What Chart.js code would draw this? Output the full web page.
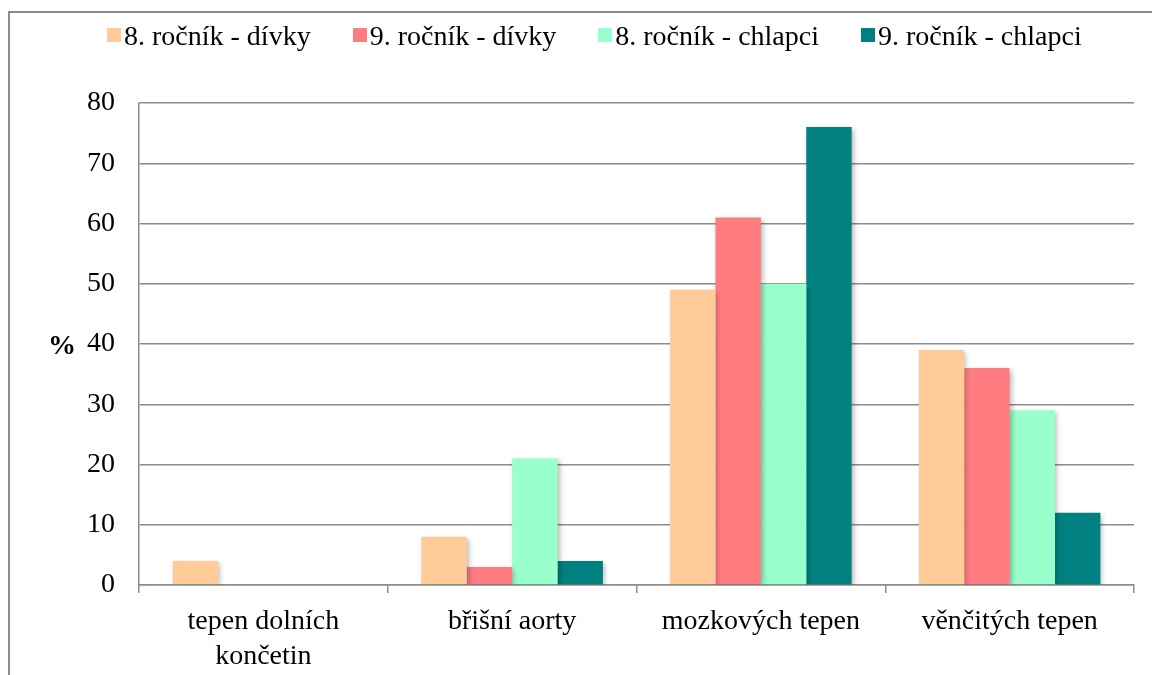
<!DOCTYPE html>
<html lang="cs">
<head>
<meta charset="utf-8">
<script src="https://cdn.jsdelivr.net/npm/chart.js@4"></script>
<style>
  html, body { margin: 0; padding: 0; background: #fff; overflow: hidden; }
  #wrap { position: relative; width: 1152px; height: 675px; }
  #frame { position: absolute; left: 8px; top: 11px; width: 1200px; height: 700px; border: 2px solid #8c8c8c; box-sizing: border-box; }
  #myChart { position: absolute; left: 0; top: 0; }
  #legend { position: absolute; left: 107px; top: 20px; display: flex; align-items: center; font-family: "Liberation Serif", "Times New Roman", serif; font-size: 28px; color: #000; }
  #legend .item { display: flex; align-items: center; margin-right: 42px; white-space: nowrap; }
  #legend .box { width: 14px; height: 14px; margin-right: 3px; margin-top: -2px; }
</style>
</head>
<body>
<div id="wrap">
  <div id="frame"></div>
  <canvas id="myChart" width="1152" height="675"></canvas>
  <div id="legend"></div>
</div>
<script>
const categories = [["tepen dolních", "končetin"], "břišní aorty", "mozkových tepen", "věnčitých tepen"];
const seriesNames = ["8. ročník - dívky", "9. ročník - dívky", "8. ročník - chlapci", "9. ročník - chlapci"];
const seriesColors = ["#ffcc99", "#ff7c80", "#99ffcc", "#008080"];

const divky8 = [4, 8, 49, 39];
const divky9 = [0, 3, 61, 36];
const chlapci8 = [0, 21, 50, 29];
const chlapci9 = [0, 4, 76, 12];

const yTicks = [0, 10, 20, 30, 40, 50, 60, 70, 80];

const serif = "'Liberation Serif', 'Times New Roman', serif";
const gridColor = "#8c8c8c";

const ctx = document.getElementById("myChart");

// soft drop shadow under the bars
const barShadow = {
  id: "barShadow",
  beforeDatasetsDraw(chart) {
    const c = chart.ctx;
    c.save();
    c.shadowColor = "rgba(0,0,0,0.28)";
    c.shadowBlur = 5;
    c.shadowOffsetX = 2;
    c.shadowOffsetY = 2;
  },
  afterDatasetsDraw(chart) {
    chart.ctx.restore();
  }
};

// upright "%" beside the value axis
const percentLabel = {
  id: "percentLabel",
  afterDraw(chart) {
    const { left, top, bottom } = chart.chartArea;
    const c = chart.ctx;
    c.save();
    c.font = "bold 28px " + serif;
    c.fillStyle = "#000";
    c.textAlign = "center";
    c.textBaseline = "middle";
    c.fillText("%", left - 77, (top + bottom) / 2 + 3);
    c.restore();
  }
};

const seriesData = [divky8, divky9, chlapci8, chlapci9];

const myChart = new Chart(ctx, {
  type: "bar",
  data: {
    labels: categories,
    datasets: seriesNames.map((name, i) => ({
      label: name,
      data: seriesData[i],
      backgroundColor: seriesColors[i],
      borderWidth: 0,
      categoryPercentage: 0.73,
      barPercentage: 1.0,
    })),
  },
  options: {
    responsive: false,
    animation: false,
    layout: {
      padding: { top: 103, right: 18, bottom: 0, left: 0 },
    },
    plugins: {
      legend: { display: false },
      tooltip: { enabled: false },
    },
    scales: {
      x: {
        grid: {
          offset: true,
          drawOnChartArea: false,
          tickLength: 8,
          color: gridColor,
          lineWidth: 1.5,
        },
        border: { color: gridColor, width: 1.5 },
        ticks: {
          font: { family: serif, size: 28, lineHeight: 1.22 },
          color: "#000",
          padding: 12,
          maxRotation: 0,
        },
        afterFit: (scale) => { scale.height = 90; },
      },
      y: {
        min: 0,
        max: 80,
        afterBuildTicks: (scale) => { scale.ticks = yTicks.map((v) => ({ value: v })); },
        grid: {
          color: gridColor,
          lineWidth: 1.5,
          drawTicks: false,
        },
        border: { color: gridColor, width: 1.5 },
        ticks: {
          font: { family: serif, size: 28 },
          color: "#000",
          padding: 24,
        },
        afterFit: (scale) => { scale.width = 139; },
      },
    },
  },
  plugins: [barShadow, percentLabel],
});

// legend row
const legendEl = document.getElementById("legend");
seriesNames.forEach((name, i) => {
  const item = document.createElement("div");
  item.className = "item";
  const box = document.createElement("span");
  box.className = "box";
  box.style.background = seriesColors[i];
  const text = document.createElement("span");
  text.textContent = name;
  item.appendChild(box);
  item.appendChild(text);
  legendEl.appendChild(item);
});
</script>
</body>
</html>
